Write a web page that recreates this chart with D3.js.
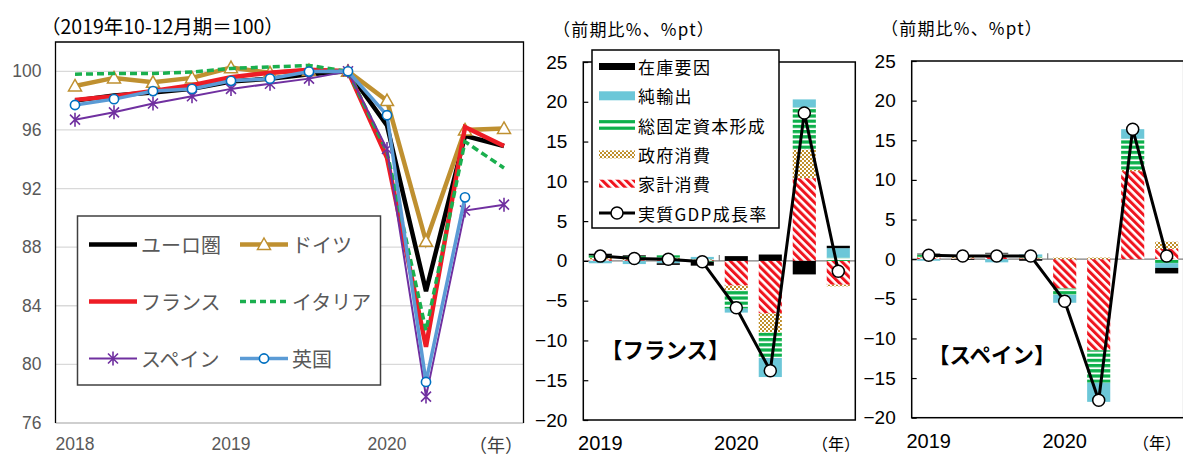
<!DOCTYPE html>
<html><head><meta charset="utf-8">
<script src="https://cdn.jsdelivr.net/npm/d3@7"></script>
<style>body{margin:0;background:#fff}svg{display:block}</style>
</head><body><svg id="c" width="1183" height="457"></svg>
<script>
// ---------- data: left chart (real GDP index, 2019Q4 = 100) ----------
const quartersL = ["2018Q1","2018Q2","2018Q3","2018Q4","2019Q1","2019Q2","2019Q3","2019Q4","2020Q1","2020Q2","2020Q3","2020Q4"];
const yearLabelsL = ["2018","2019","2020"];
const yTicksL = [76,80,84,88,92,96,100];
const euro    = [98.0, 98.35, 98.55, 98.8, 99.3, 99.5, 99.8, 100, 96.3, 85.0, 95.6, 94.9];
const germany = [99.0, 99.55, 99.25, 99.55, 100.25, 99.9, 100.05, 100, 98.0, 88.4, 96.0, 96.1];
const france  = [98.05, 98.3, 98.65, 99.05, 99.6, 99.9, 100.1, 100, 94.1, 81.2, 96.2, 94.9];
const italy   = [99.8, 99.85, 99.85, 99.95, 100.2, 100.3, 100.4, 100, 94.5, 82.3, 95.2, 93.4];
const spain   = [96.7, 97.2, 97.8, 98.3, 98.8, 99.15, 99.5, 100, 94.7, 77.8, 90.5, 90.9];
const uk      = [97.7, 98.1, 98.65, 98.8, 99.35, 99.5, 99.98, 100, 97.0, 78.8, 91.4, null];
const seriesNamesL = ["ユーロ圏","ドイツ","フランス","イタリア","スペイン","英国"];

// ---------- data: contribution charts (q/q %, %pt) ----------
const quartersR = ["2019Q1","2019Q2","2019Q3","2019Q4","2020Q1","2020Q2","2020Q3","2020Q4"];
const yearLabelsR = ["2019","2020"];
const yTicksR = [-20,-15,-10,-5,0,5,10,15,20,25];
const compNames = ["在庫要因","純輸出","総固定資本形成","政府消費","家計消費","実質GDP成長率"];

const frHousehold  = [0.2, 0.1, 0.2, 0.1, -3.1, -6.6, 10.4, -3.0];
const frGovernment = [0.2, 0.2, 0.2, 0.1, -0.6, -2.4, 3.6, -0.2];
const frGFCF       = [0.3, 0.3, 0.3, -0.1, -2.3, -3.2, 5.3, 0.4];
const frNetExports = [-0.3, -0.4, -0.3, 0.3, -0.5, -2.4, 1.0, 1.2];
const frInventory  = [0.2, 0.1, -0.2, -0.5, 0.6, 0.8, -1.7, 0.3];
const frGDP        = [0.6, 0.3, 0.2, -0.1, -5.9, -13.8, 18.6, -1.3];

const esHousehold  = [0.2, 0.1, 0.3, 0.1, -3.7, -11.5, 11.1, 1.3];
const esGovernment = [0.1, 0.2, 0.1, 0.1, 0.2, 0.2, 0.2, 0.9];
const esGFCF       = [0.3, 0.1, 0.3, 0.1, -0.8, -4.1, 3.9, -0.5];
const esNetExports = [-0.2, 0.1, -0.4, 0.3, -1.0, -2.4, 1.2, -0.6];
const esInventory  = [0.1, -0.1, 0.1, -0.2, 0.0, 0.0, 0.0, -0.7];
const esGDP        = [0.5, 0.4, 0.4, 0.4, -5.3, -17.8, 16.4, 0.4];

// ---------- setup ----------
const fontCJK = '"Noto Sans CJK JP","Noto Sans",sans-serif';
const fontNum = '"Liberation Sans",Arial,sans-serif';
const fontNarrow = '"Liberation Sans Narrow","Arial Narrow","Liberation Sans",sans-serif';
const svg = d3.select("#c");
svg.append("rect").attr("width",1183).attr("height",457).attr("fill","#fff");

const defs = svg.append("defs");
const RED = "#F0141E", GOLD = "#BF8F2A", GREEN = "#0DB04B", BLUE = "#6CC7D8";
const ph = defs.append("pattern").attr("id","pHouse").attr("patternUnits","userSpaceOnUse")
  .attr("width",5.6).attr("height",5.6).attr("patternTransform","rotate(-45)");
ph.append("rect").attr("width",5.6).attr("height",5.6).attr("fill","#fff");
ph.append("rect").attr("width",3).attr("height",5.6).attr("fill",RED);
const pg = defs.append("pattern").attr("id","pGov").attr("patternUnits","userSpaceOnUse").attr("width",4).attr("height",4);
pg.append("rect").attr("width",4).attr("height",4).attr("fill","#fff");
pg.append("rect").attr("width",2).attr("height",2).attr("fill",GOLD);
pg.append("rect").attr("x",2).attr("y",2).attr("width",2).attr("height",2).attr("fill",GOLD);
const pf = defs.append("pattern").attr("id","pGFCF").attr("patternUnits","userSpaceOnUse").attr("width",10).attr("height",5.2);
pf.append("rect").attr("width",10).attr("height",5.2).attr("fill","#fff");
pf.append("rect").attr("width",10).attr("height",3.2).attr("fill",GREEN);

// ================= LEFT CHART =================
(function(){
  const L = 55.5, R = 523.5, T = 42, B = 423;
  const g = svg.append("g");
  const x = d3.scaleBand().domain(quartersL).range([L,R]).padding(0);
  const cx = q => x(q) + x.bandwidth()/2;
  const y = d3.scaleLinear().domain([76,102]).range([B,T]);

  g.selectAll("line.grid").data(yTicksL).join("line").attr("class","grid")
    .attr("x1",L).attr("x2",R).attr("y1",d=>y(d)).attr("y2",d=>y(d))
    .attr("stroke",d=>d===76?"#BFBFBF":"#D9D9D9").attr("stroke-width",1.3);
  g.append("path").attr("d",`M${L},${B}V${T}H${R}V${B}`).attr("fill","none").attr("stroke","#000").attr("stroke-width",1.3);

  const ya = g.append("g").attr("transform",`translate(${L},0)`)
    .call(d3.axisLeft(y).tickValues(yTicksL).tickSize(0).tickPadding(14));
  ya.select(".domain").remove();
  ya.selectAll("text").attr("font-family",fontNum).attr("font-size",17.5).attr("fill","#595959");

  const xa = g.append("g").attr("transform",`translate(0,${B})`)
    .call(d3.axisBottom(x).tickValues(["2018Q1","2019Q1","2020Q1"]).tickFormat((d,i)=>yearLabelsL[i]).tickSize(0).tickPadding(15));
  xa.select(".domain").remove();
  xa.selectAll("text").attr("font-family",fontNum).attr("font-size",17.5).attr("fill","#595959");

  g.append("text").attr("x",496).attr("y",444).attr("text-anchor","middle").attr("dominant-baseline","central")
    .attr("font-family",fontCJK).attr("font-size",18).attr("fill","#404040").text("（年）");
  svg.append("text").attr("x",41).attr("y",25).attr("dominant-baseline","central")
    .attr("font-family",fontCJK).attr("font-size",19.5).attr("fill","#000").text("（2019年10-12月期＝100）");

  const tri = "M0,-6.5L6.5,5L-6.5,5Z";
  const star = "M-5,-5L5,5M-5,5L5,-5M0,-7L0,7";
  const defsL = [
    {name:seriesNamesL[0], data:euro, color:"#000", w:4.5},
    {name:seriesNamesL[1], data:germany, color:"#BF9030", w:4.5, marker:"tri"},
    {name:seriesNamesL[2], data:france, color:"#EE1C25", w:4.5},
    {name:seriesNamesL[3], data:italy, color:"#1AAF4E", w:3.5, dash:"7,4"},
    {name:seriesNamesL[4], data:spain, color:"#7030A0", w:2, marker:"star"},
    {name:seriesNamesL[5], data:uk, color:"#5B9BD5", w:3.5, marker:"circ"}
  ];
  const line = d3.line().defined(d=>d.v!=null).x(d=>cx(d.q)).y(d=>y(d.v));
  function drawMarker(sel, s, px, py){
    if(s.marker==="tri") sel.append("path").attr("d",tri).attr("transform",`translate(${px},${py})`).attr("fill","#fff").attr("stroke",s.color).attr("stroke-width",1.5);
    if(s.marker==="star") sel.append("path").attr("d",star).attr("transform",`translate(${px},${py})`).attr("fill","none").attr("stroke",s.color).attr("stroke-width",1.6);
    if(s.marker==="circ") sel.append("circle").attr("cx",px).attr("cy",py).attr("r",4.6).attr("fill","#fff").attr("stroke","#0070C0").attr("stroke-width",1.6);
  }
  defsL.forEach(s=>{
    const pts = quartersL.map((q,i)=>({q, v:s.data[i]}));
    g.append("path").datum(pts).attr("d",line).attr("fill","none").attr("stroke",s.color)
      .attr("stroke-width",s.w).attr("stroke-dasharray",s.dash||null).attr("stroke-linejoin","miter");
    if(s.marker) pts.filter(p=>p.v!=null).forEach(p=>drawMarker(g,s,cx(p.q),y(p.v)));
  });

  const lg = svg.append("g");
  lg.append("rect").attr("x",77.5).attr("y",216).attr("width",303).attr("height",169)
    .attr("fill","#fff").attr("stroke","#404040").attr("stroke-width",1.5);
  const colX = [89,240], rowY = [244.5,301.5,358.5];
  defsL.forEach((s,i)=>{
    const x0 = colX[i%2], yy = rowY[Math.floor(i/2)];
    lg.append("line").attr("x1",x0).attr("x2",x0+48).attr("y1",yy).attr("y2",yy)
      .attr("stroke",s.color).attr("stroke-width",s.w).attr("stroke-dasharray",s.dash?"6,4":null);
    if(s.marker) drawMarker(lg,s,x0+24,yy);
    lg.append("text").attr("x",x0+52).attr("y",yy).attr("dominant-baseline","central")
      .attr("font-family",fontCJK).attr("font-size",20).attr("fill","#595959").text(s.name);
  });
})();

// ================= CONTRIBUTION CHARTS =================
const keys = ["household","government","gfcf","netexports","inventory"];
const fills = {household:"url(#pHouse)", government:"url(#pGov)", gfcf:"url(#pGFCF)", netexports:BLUE, inventory:"#000"};

function barChart(cfg){
  const g = svg.append("g");
  const x = d3.scaleBand().domain(quartersR).range([cfg.left,cfg.right]).paddingInner(0.32).paddingOuter(0.16);
  const cx = q => x(q) + x.bandwidth()/2;
  const y = d3.scaleLinear().domain([-20,25]).range([cfg.bottom,cfg.top]);

  g.append("line").attr("x1",cfg.left).attr("x2",cfg.right).attr("y1",y(0)).attr("y2",y(0)).attr("stroke","#7F7F7F").attr("stroke-width",1.2);
  const bx = (x(quartersR[3]) + x.bandwidth() + x(quartersR[4]))/2;
  g.append("line").attr("x1",bx).attr("x2",bx).attr("y1",y(0)-6).attr("y2",y(0)).attr("stroke","#7F7F7F").attr("stroke-width",1.2);

  const rows = quartersR.map((q,i)=>({q, household:cfg.household[i], government:cfg.government[i], gfcf:cfg.gfcf[i], netexports:cfg.netexports[i], inventory:cfg.inventory[i]}));
  const stacked = d3.stack().keys(keys).offset(d3.stackOffsetDiverging)(rows);
  stacked.forEach(layer=>{
    g.append("g").selectAll("rect").data(layer).join("rect")
      .attr("x",d=>x(d.data.q)).attr("width",x.bandwidth())
      .attr("y",d=>y(Math.max(d[0],d[1]))).attr("height",d=>Math.abs(y(d[0])-y(d[1])))
      .attr("fill",fills[layer.key]);
  });

  g.append("rect").attr("x",cfg.left).attr("y",cfg.top).attr("width",cfg.right-cfg.left).attr("height",cfg.bottom-cfg.top)
    .attr("fill","none").attr("stroke","#000").attr("stroke-width",1.5);

  const fmt = d => d<0 ? "\u2212"+Math.abs(d) : String(d);
  const ya = g.append("g").attr("transform",`translate(${cfg.left},0)`)
    .call(d3.axisLeft(y).tickValues(yTicksR).tickSize(-5).tickPadding(16).tickFormat(fmt));
  ya.select(".domain").remove();
  ya.selectAll("line").attr("stroke","#000").attr("stroke-width",1.2);
  ya.selectAll("text").attr("font-family",fontNarrow).attr("font-size",19).attr("fill","#000");

  const xa = g.append("g").attr("transform",`translate(0,${cfg.bottom})`)
    .call(d3.axisBottom(x).tickValues(["2019Q1","2020Q1"]).tickFormat((d,i)=>yearLabelsR[i]).tickSize(0).tickPadding(cfg.xPad));
  xa.select(".domain").remove();
  xa.selectAll("text").attr("font-family",fontNarrow).attr("font-size",20).attr("fill","#000");

  g.append("text").attr("x",cfg.nenX).attr("y",cfg.nenY).attr("text-anchor","middle").attr("dominant-baseline","central")
    .attr("font-family",fontCJK).attr("font-size",16).attr("fill","#000").text("（年）");
  g.append("text").attr("x",cfg.titleX).attr("y",cfg.titleY).attr("dominant-baseline","central")
    .attr("font-family",fontCJK).attr("font-size",17).attr("letter-spacing",1.2).attr("fill","#000").text("（前期比%、%pt）");
  g.append("text").attr("x",cfg.labelX).attr("y",cfg.labelY).attr("dominant-baseline","central")
    .attr("font-family",fontCJK).attr("font-size",21.5).attr("font-weight","bold").attr("fill","#000").text(cfg.label);

  const pts = quartersR.map((q,i)=>({q, v:cfg.gdp[i]}));
  g.append("path").datum(pts).attr("d",d3.line().x(d=>cx(d.q)).y(d=>y(d.v)))
    .attr("fill","none").attr("stroke","#000").attr("stroke-width",3);
  g.selectAll("circle.gdp").data(pts).join("circle").attr("class","gdp")
    .attr("cx",d=>cx(d.q)).attr("cy",d=>y(d.v)).attr("r",6).attr("fill","#fff").attr("stroke","#000").attr("stroke-width",1.5);
  return g;
}

barChart({left:583.3, right:855.3, top:62, bottom:420, xPad:16,
  household:frHousehold, government:frGovernment, gfcf:frGFCF, netexports:frNetExports, inventory:frInventory, gdp:frGDP,
  nenX:836, nenY:443, titleX:553, titleY:28, label:"【フランス】", labelX:601, labelY:348});
barChart({left:911.7, right:1183.7, top:61, bottom:417.7, xPad:16,
  household:esHousehold, government:esGovernment, gfcf:esGFCF, netexports:esNetExports, inventory:esInventory, gdp:esGDP,
  nenX:1157, nenY:442, titleX:881, titleY:27, label:"【スペイン】", labelX:928, labelY:353});

(function(){
  const lg = svg.append("g");
  lg.append("rect").attr("x",592).attr("y",50).attr("width",187).attr("height",178)
    .attr("fill","#fff").attr("stroke","#000").attr("stroke-width",1.5);
  const x0 = 599, w = 36;
  compNames.forEach((nm,i)=>{
    const yy = 66.5 + i*29.3;
    if(i===0) lg.append("rect").attr("x",x0).attr("y",yy-3.5).attr("width",w).attr("height",7).attr("fill","#000");
    if(i===1) lg.append("rect").attr("x",x0).attr("y",yy-4.5).attr("width",w).attr("height",9).attr("fill",BLUE);
    if(i===2){ lg.append("rect").attr("x",x0).attr("y",yy-5).attr("width",w).attr("height",3.2).attr("fill",GREEN);
               lg.append("rect").attr("x",x0).attr("y",yy+1.5).attr("width",w).attr("height",3.2).attr("fill",GREEN); }
    if(i===3) lg.append("rect").attr("x",x0).attr("y",yy-4).attr("width",w).attr("height",8).attr("fill","url(#pGov)");
    if(i===4) lg.append("rect").attr("x",x0).attr("y",yy-4).attr("width",w).attr("height",8).attr("fill","url(#pHouse)");
    if(i===5){ lg.append("line").attr("x1",x0).attr("x2",x0+w).attr("y1",yy).attr("y2",yy).attr("stroke","#000").attr("stroke-width",3);
               lg.append("circle").attr("cx",x0+w/2).attr("cy",yy).attr("r",6).attr("fill","#fff").attr("stroke","#000").attr("stroke-width",1.5); }
    lg.append("text").attr("x",x0+w+3).attr("y",yy).attr("dominant-baseline","central")
      .attr("font-family",fontCJK).attr("font-size",17).attr("letter-spacing",1.3).attr("fill","#000").text(nm);
  });
})();
</script></body></html>
